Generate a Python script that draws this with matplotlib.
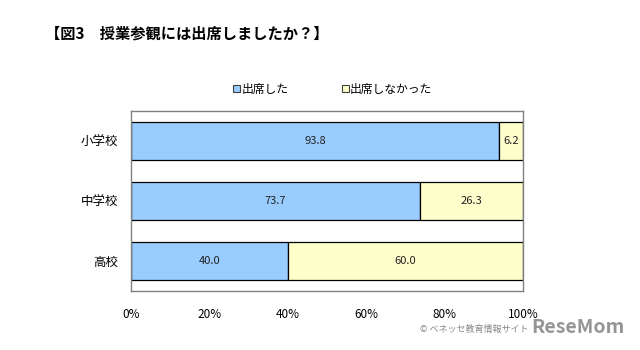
import numpy as np
import matplotlib.pyplot as plt
from matplotlib.patches import Patch

plt.rcParams['font.family'] = ['Noto Sans CJK JP', 'DejaVu Sans']

# 学校種別ごとの回答割合(%)
schools = ['小学校', '中学校', '高校']
attended = [93.8, 73.7, 40.0]
not_attended = [6.2, 26.3, 60.0]
xticks = [0, 20, 40, 60, 80, 100]

blue = '#99CCFF'
yellow = '#FFFFCC'

fig = plt.figure(figsize=(6.4, 3.5), dpi=100)
ax = fig.add_axes([0.2047, 0.1686, 0.6125, 0.514])

y = np.arange(len(schools))
ax.barh(y, attended, height=0.64, color=blue, edgecolor='black', linewidth=0.9)
ax.barh(y, not_attended, left=attended, height=0.64, color=yellow,
        edgecolor='black', linewidth=0.9)

# 帯の中央に数値
for i in range(len(schools)):
    ax.text(attended[i] / 2, y[i], f'{attended[i]:.1f}', ha='center', va='center',
            fontsize=8, color='#222222')
    ax.text(attended[i] + not_attended[i] / 2, y[i], f'{not_attended[i]:.1f}',
            ha='center', va='center', fontsize=8, color='#222222')

ax.set_xlim(0, 100)
ax.set_ylim(2.5, -0.5)
ax.set_yticks(y)
ax.set_yticklabels(schools, fontsize=9)
ax.set_xticks(xticks)
ax.set_xticklabels([f'{v}%' for v in xticks], fontsize=8.5)
ax.tick_params(length=0, pad=9)
ax.tick_params(axis='x', pad=12)
for s in ax.spines.values():
    s.set_color('#808080')
    s.set_linewidth(1.0)

fig.text(0.07, 0.905, '【図3　授業参観には出席しましたか？】', fontsize=11,
         fontweight='bold', va='center', ha='left')

handles = [Patch(facecolor=blue, edgecolor='#404040', linewidth=0.8),
           Patch(facecolor=yellow, edgecolor='#404040', linewidth=0.8)]
fig.legend(handles, ['出席した', '出席しなかった'], loc='center',
           bbox_to_anchor=(0.52, 0.745), ncol=2, frameon=False, fontsize=8.5,
           handlelength=0.6, handleheight=0.6, handletextpad=0.1,
           columnspacing=4.5)

fig.text(0.826, 0.058, '© ベネッセ教育情報サイト', fontsize=6.5, color='#888888',
         va='center', ha='right')
fig.text(0.83, 0.065, 'ReseMom', fontsize=14, color='#8a8a8a',
         fontweight='bold', va='center', ha='left', alpha=0.9)

fig.savefig('out.png', dpi=100)
